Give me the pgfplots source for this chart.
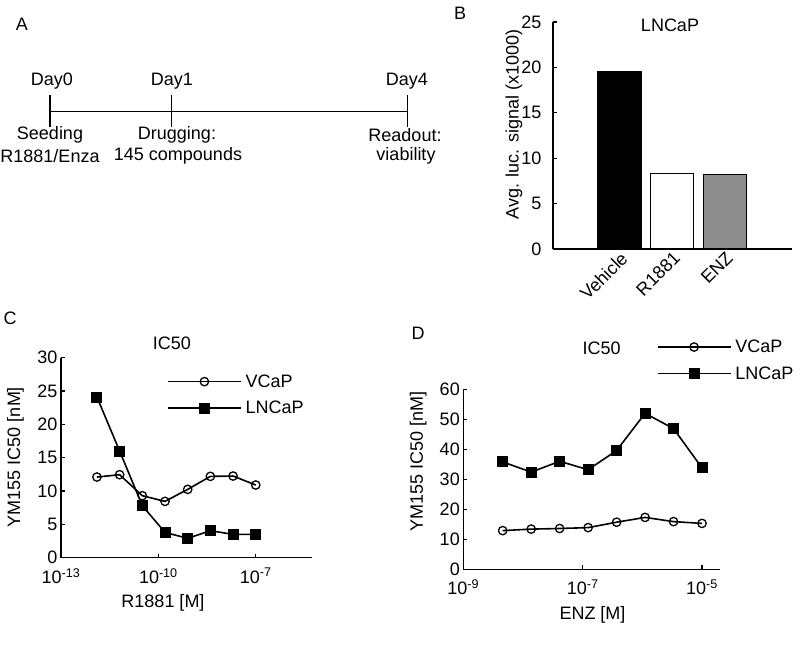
\documentclass[border=0pt]{standalone}
\usepackage{fontspec}
\setmainfont{Liberation Sans}
\usepackage{pgfplots}
\pgfplotsset{compat=1.18}
\definecolor{enzgray}{HTML}{8E8E8E}

\pgfplotsset{
  panel/.style={
    scale only axis, anchor=south west,
    axis x line=bottom, axis y line=left,
    axis line style={-, line width=1.3pt},
    tick align=inside, major tick length=4pt,
    tick style={line width=1.2pt, black},
    /pgf/number format/assume math mode=true,
    clip=false,
  },
  dose legend/.style={
    legend style={draw=none, fill=none, inner sep=0pt, row sep=8.5pt,
      column sep=2pt, nodes={inner sep=2pt}},
    legend cell align=left,
    legend image code/.code={
      \draw[mark repeat=2, mark phase=2] plot coordinates {(0pt,0pt) (36.5pt,0pt) (73pt,0pt)};},
    xticklabel style={yshift=-7pt},
  },
  vcap/.style={black, line width=1.6pt, mark=o, mark size=4.2pt,
    mark options={fill=white, line width=1.3pt}},
  lncap/.style={black, line width=1.6pt, mark=square*, mark size=4.7pt,
    mark options={fill=black}},
}

\begin{document}
\begin{tikzpicture}[font=\fontsize{18}{21.6}\selectfont]
\useasboundingbox (0pt,0pt) rectangle (800pt,-653pt);

% A: timeline, drawn in pixel units
\begin{axis}[at={(0pt,0pt)}, anchor=north west, scale only axis,
  width=420pt, height=200pt, xmin=0, xmax=420, ymin=0, ymax=200,
  y dir=reverse, hide axis, clip=false]
\addplot[black, line width=1.4pt] coordinates {(50,111.7) (407.3,111.7)};
\addplot[black, line width=1.4pt] coordinates {(50,95) (50,127)};
\addplot[black, line width=1.4pt] coordinates {(171.7,95) (171.7,127)};
\addplot[black, line width=1.4pt] coordinates {(407.3,95) (407.3,127)};
\node at (axis cs:22,24) {A};
\node at (axis cs:52,81) {Day0};
\node at (axis cs:172,81) {Day1};
\node at (axis cs:407,81) {Day4};
\node at (axis cs:50,135) {Seeding};
\node at (axis cs:50,156) {R1881/Enza};
\node at (axis cs:177,135) {Drugging:};
\node at (axis cs:178,156) {145 compounds};
\node at (axis cs:405,135) {Readout:};
\node at (axis cs:406,156) {viability};
\end{axis}

% B: luciferase signal
\begin{axis}[panel, at={(553pt,-249pt)}, width=239pt, height=227pt,
  xmin=-0.262, xmax=4.27, ymin=0, ymax=25,
  ytick={0,5,...,25}, xtick={1,2,3}, xticklabels={Vehicle,R1881,ENZ},
  xtick style={draw=none},
  xticklabel style={rotate=45, anchor=north east, inner sep=1pt},
  yticklabel style={xshift=-8pt}]
\addplot[ybar, bar shift=0pt, bar width=43pt, fill=black, draw=black, line width=1.2pt] coordinates {(1,19.5)};
\addplot[ybar, bar shift=0pt, bar width=43pt, fill=white, draw=black, line width=1.2pt] coordinates {(2,8.33)};
\addplot[ybar, bar shift=0pt, bar width=43pt, fill=enzgray, draw=black, line width=1.2pt] coordinates {(3,8.17)};
\end{axis}

% C: R1881 dose
\begin{axis}[panel, dose legend, at={(61pt,-557.7pt)}, width=251pt, height=200pt,
  xmode=log, xmin=1e-13, xmax=5.4e-6, ymin=0, ymax=30,
  ytick={0,5,...,30},
  xtick={1e-13,1e-10,1e-7},
  xticklabels={10\textsuperscript{-13},10\textsuperscript{-10},10\textsuperscript{-7}},
  minor xtick={},
  legend style={at={(0.422,0.814)}, anchor=west}]
\addplot[vcap] coordinates {
  (1.28e-12,12.1) (6.4e-12,12.45) (3.2e-11,9.3) (1.6e-10,8.45)
  (8e-10,10.25) (4e-9,12.2) (2e-8,12.25) (1e-7,10.9)};
\addlegendentry{VCaP}
\addplot[lncap] coordinates {
  (1.28e-12,24.1) (6.4e-12,16.0) (3.2e-11,7.8) (1.6e-10,3.8)
  (8e-10,2.9) (4e-9,4.05) (2e-8,3.5) (1e-7,3.5)};
\addlegendentry{LNCaP}
\end{axis}

% D: ENZ dose
\begin{axis}[panel, dose legend, at={(463.3pt,-569.3pt)}, width=256.7pt, height=180pt,
  xmode=log, xmin=1e-9, xmax=2e-5, ymin=0, ymax=60,
  ytick={0,10,...,60},
  xtick={1e-9,1e-7,1e-5},
  xticklabels={10\textsuperscript{-9},10\textsuperscript{-7},10\textsuperscript{-5}},
  minor xtick={},
  legend style={at={(0.753,1.161)}, anchor=west}]
\addplot[vcap] coordinates {
  (4.572e-9,12.9) (1.372e-8,13.4) (4.115e-8,13.6) (1.235e-7,13.9)
  (3.704e-7,15.7) (1.111e-6,17.3) (3.333e-6,15.9) (1e-5,15.3)};
\addlegendentry{VCaP}
\addplot[lncap] coordinates {
  (4.572e-9,35.8) (1.372e-8,32.4) (4.115e-8,36.0) (1.235e-7,33.2)
  (3.704e-7,39.6) (1.111e-6,52.0) (3.333e-6,46.9) (1e-5,33.8)};
\addlegendentry{LNCaP}
\end{axis}

% titles and axis labels
\node at (460pt,-13pt) {B};
\node at (670pt,-25pt) {LNCaP};
\node[rotate=90] at (514pt,-124.5pt) {Avg. luc. signal (x1000)};
\node at (10pt,-318pt) {C};
\node at (172pt,-343pt) {IC50};
\node[rotate=90] at (15.5pt,-457pt) {YM155 IC50 [nM]};
\node at (163pt,-603pt) {R1881 [M]};
\node at (418pt,-333pt) {D};
\node at (601.7pt,-348pt) {IC50};
\node[rotate=90] at (418.3pt,-461.7pt) {YM155 IC50 [nM]};
\node at (592.5pt,-615pt) {ENZ [M]};
\end{tikzpicture}
\end{document}
